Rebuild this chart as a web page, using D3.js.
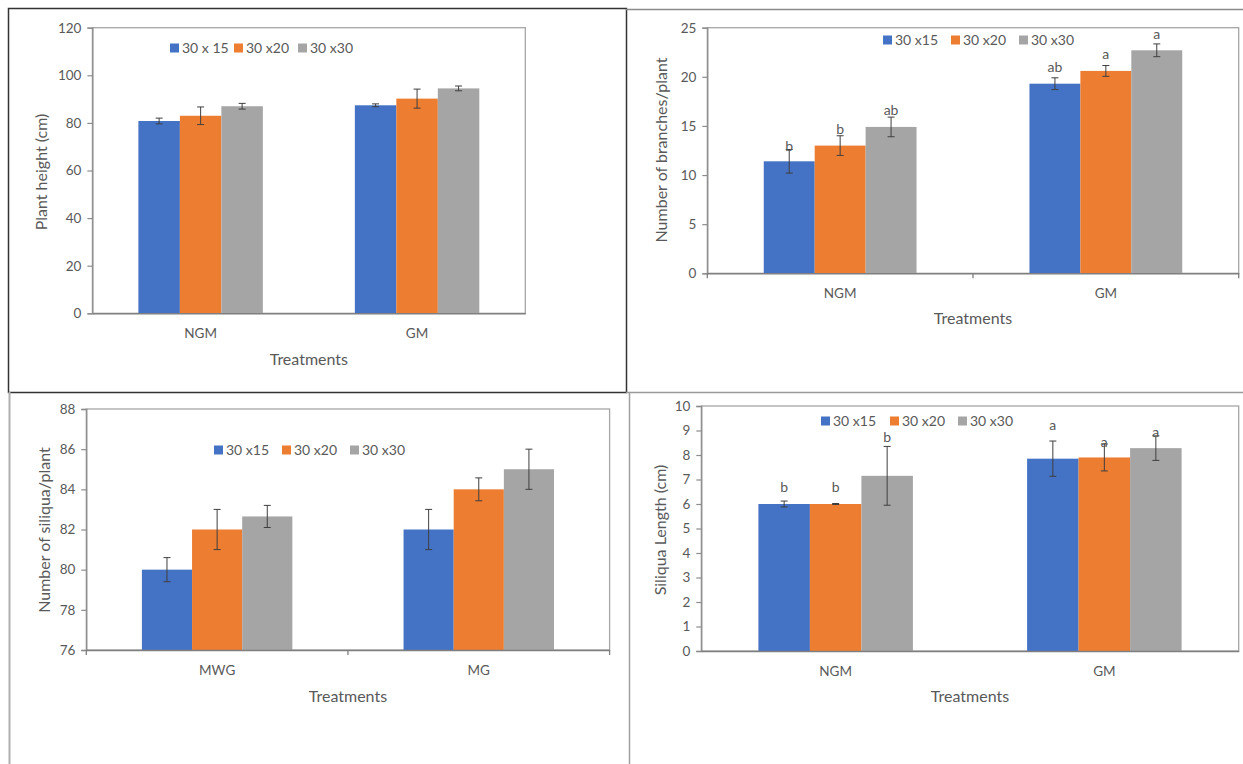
<!DOCTYPE html>
<html>
<head>
<meta charset="utf-8">
<script src="https://cdn.jsdelivr.net/npm/d3@7"></script>
<style>
  html, body { margin: 0; padding: 0; background: #ffffff; }
  svg { display: block; }
  text { font-family: Lato, "Open Sans", sans-serif; fill: #595959; }
</style>
</head>
<body>
<svg id="chart" width="1243" height="764"></svg>
<script>
// ---------------- DATA ----------------
const spacingNames = ["30 x15", "30 x20", "30 x30"];
const spacingNamesHeight = ["30 x 15", "30 x20", "30 x30"];
const treatmentsGM = ["NGM", "GM"];
const treatmentsMG = ["MWG", "MG"];

// Plant height (cm): rows = treatments, cols = spacings
const heightMean = [[80.8, 83.0, 87.0], [87.4, 90.2, 94.5]];
const heightErr  = [[1.2, 3.7, 1.2], [0.6, 4.0, 1.0]];
const heightTicks = [0, 20, 40, 60, 80, 100, 120];

// Number of branches / plant
const branchMean = [[11.4, 13.0, 14.9], [19.3, 20.6, 22.7]];
const branchErr  = [[1.2, 1.0, 1.0], [0.6, 0.55, 0.65]];
const branchLetters = [["b", "b", "ab"], ["ab", "a", "a"]];
const branchLetterAt = [[12.9, 14.7, 16.6], [21.0, 22.3, 24.3]];
const branchTicks = [0, 5, 10, 15, 20, 25];

// Number of siliqua / plant
const siliquaMean = [[80.0, 82.0, 82.65], [82.0, 84.0, 85.0]];
const siliquaErr  = [[0.6, 1.0, 0.55], [1.0, 0.57, 1.0]];
const siliquaTicks = [76, 78, 80, 82, 84, 86, 88];

// Siliqua length (cm)
const lengthMean = [[6.0, 6.0, 7.15], [7.85, 7.9, 8.28]];
const lengthErr  = [[0.12, 0.02, 1.2], [0.72, 0.55, 0.5]];
const lengthLetters = [["b", "b", "b"], ["a", "a", "a"]];
const lengthLetterAt = [[6.68, 6.68, 8.75], [9.22, 8.54, 8.95]];
const lengthTicks = [0, 1, 2, 3, 4, 5, 6, 7, 8, 9, 10];

const seriesColors = ["#4472C4", "#ED7D31", "#A5A5A5"];

// ---------------- DRAW ----------------
const svg = d3.select("#chart");
const FONT = "Lato, 'Open Sans', sans-serif";

function drawPanel(cfg) {
  const g = svg.append("g");
  const y = d3.scaleLinear().domain([cfg.ticks[0], cfg.ticks[cfg.ticks.length - 1]])
    .range([cfg.bottom, cfg.top]);
  const x = d3.scaleBand().domain(cfg.cats).range([cfg.left, cfg.right]).padding(0);
  const bw = x.bandwidth();
  const xs = d3.scaleBand().domain(d3.range(3)).range([bw * 0.2125, bw * 0.7875]).padding(0);

  // plot area border
  g.append("rect")
    .attr("x", cfg.left).attr("y", cfg.top)
    .attr("width", cfg.right - cfg.left).attr("height", cfg.bottom - cfg.top)
    .attr("fill", "none").attr("stroke", "#a6a6a6").attr("stroke-width", 1.3);

  // bars
  cfg.cats.forEach((c, i) => {
    cfg.mean[i].forEach((v, j) => {
      g.append("rect")
        .attr("x", x(c) + xs(j))
        .attr("y", y(v))
        .attr("width", xs.bandwidth())
        .attr("height", y(cfg.ticks[0]) - y(v))
        .attr("fill", seriesColors[j]);
    });
  });

  // error bars
  cfg.cats.forEach((c, i) => {
    cfg.mean[i].forEach((v, j) => {
      const cx = x(c) + xs(j) + xs.bandwidth() / 2;
      const e = cfg.err[i][j];
      const eg = g.append("g").attr("stroke", "#3f3f3f").attr("stroke-width", 1);
      eg.append("line").attr("x1", cx).attr("x2", cx).attr("y1", y(v + e)).attr("y2", y(v - e));
      eg.append("line").attr("x1", cx - 3.5).attr("x2", cx + 3.5).attr("y1", y(v + e)).attr("y2", y(v + e));
      eg.append("line").attr("x1", cx - 3.5).attr("x2", cx + 3.5).attr("y1", y(v - e)).attr("y2", y(v - e));
    });
  });

  // letters
  if (cfg.letters) {
    cfg.cats.forEach((c, i) => {
      cfg.letters[i].forEach((t, j) => {
        const cx = x(c) + xs(j) + xs.bandwidth() / 2;
        g.append("text").attr("x", cx).attr("y", y(cfg.letterAt[i][j]))
          .attr("dy", "0.35em").attr("text-anchor", "middle")
          .attr("font-size", 14).text(t);
      });
    });
  }

  // y axis
  const ya = d3.axisLeft(y).tickValues(cfg.ticks).tickSize(5).tickPadding(6).tickFormat(d3.format("d"));
  const yg = g.append("g").attr("transform", `translate(${cfg.left},0)`).call(ya);
  yg.select(".domain").attr("stroke", "#8c8c8c").attr("stroke-width", 1.3);
  yg.selectAll(".tick line").attr("stroke", "#8c8c8c").attr("stroke-width", 1.2);
  yg.selectAll(".tick text").attr("font-size", 13.5).attr("fill", "#595959")
    .style("font-family", FONT);

  // x axis
  const xa = d3.axisBottom(x).tickSize(0).tickPadding(15);
  const xg = g.append("g").attr("transform", `translate(0,${cfg.bottom})`).call(xa);
  xg.select(".domain").attr("stroke", "#7f7f7f").attr("stroke-width", 1.6);
  xg.selectAll(".tick text").attr("font-size", 13.5).attr("fill", "#595959")
    .style("font-family", FONT);
  if (cfg.catTicks) {
    const bounds = [cfg.left, ...cfg.cats.map(c => x(c) + bw)];
    g.selectAll(null).data(bounds).enter().append("line")
      .attr("x1", d => d).attr("x2", d => d)
      .attr("y1", cfg.bottom).attr("y2", cfg.bottom + 5)
      .attr("stroke", "#7f7f7f").attr("stroke-width", 1.3);
  }

  // axis titles
  g.append("text").attr("x", (cfg.left + cfg.right) / 2).attr("y", cfg.bottom + cfg.xTitleGap)
    .attr("text-anchor", "middle").attr("font-size", 16).text("Treatments");
  g.append("text")
    .attr("transform", `translate(${cfg.yTitleX},${cfg.yTitleY}) rotate(-90)`)
    .attr("text-anchor", "middle").attr("dy", "0.35em").attr("font-size", 16).text(cfg.yTitle);

  // legend
  const lg = g.append("g");
  cfg.legendNames.forEach((n, j) => {
    const lx = cfg.legendX[j];
    lg.append("rect").attr("x", lx).attr("y", cfg.legendY - 4.5).attr("width", 9).attr("height", 9)
      .attr("fill", seriesColors[j]);
    lg.append("text").attr("x", lx + 12).attr("y", cfg.legendY).attr("dy", "0.35em")
      .attr("font-size", 14).text(n);
  });
}

// outer frames
const frame = svg.append("g").attr("fill", "none");
frame.append("rect").attr("x", 8.5).attr("y", 8.5).attr("width", 618).attr("height", 384)
  .attr("stroke", "#333333").attr("stroke-width", 1.5);
frame.append("line").attr("x1", 626).attr("x2", 1243).attr("y1", 9.5).attr("y2", 9.5)
  .attr("stroke", "#8a8a8a").attr("stroke-width", 1.3);
frame.append("line").attr("x1", 626).attr("x2", 1243).attr("y1", 392.5).attr("y2", 392.5)
  .attr("stroke", "#999999").attr("stroke-width", 1.5);
frame.append("line").attr("x1", 9.5).attr("x2", 9.5).attr("y1", 392).attr("y2", 764)
  .attr("stroke", "#b0b0b0").attr("stroke-width", 2);
frame.append("line").attr("x1", 629.5).attr("x2", 629.5).attr("y1", 392).attr("y2", 764)
  .attr("stroke", "#a0a0a0").attr("stroke-width", 1.5);

drawPanel({
  cats: treatmentsGM, mean: heightMean, err: heightErr, ticks: heightTicks,
  left: 92.4, right: 525.3, top: 27.7, bottom: 313.3,
  yTitle: "Plant height (cm)", yTitleX: 41, yTitleY: 172, xTitleGap: 52,
  legendNames: spacingNamesHeight, legendX: [170, 234, 298], legendY: 48, catTicks: false
});

drawPanel({
  cats: treatmentsGM, mean: branchMean, err: branchErr, ticks: branchTicks,
  letters: branchLetters, letterAt: branchLetterAt,
  left: 707.3, right: 1238.7, top: 27.7, bottom: 273.3,
  yTitle: "Number of branches/plant", yTitleX: 661, yTitleY: 150, xTitleGap: 51,
  legendNames: spacingNames, legendX: [883, 951, 1019], legendY: 40, catTicks: true
});

drawPanel({
  cats: treatmentsMG, mean: siliquaMean, err: siliquaErr, ticks: siliquaTicks,
  left: 86.3, right: 609.6, top: 409, bottom: 650,
  yTitle: "Number of siliqua/plant", yTitleX: 44, yTitleY: 530, xTitleGap: 52,
  legendNames: spacingNames, legendX: [214, 282, 350], legendY: 450, catTicks: true
});

drawPanel({
  cats: treatmentsGM, mean: lengthMean, err: lengthErr, ticks: lengthTicks,
  letters: lengthLetters, letterAt: lengthLetterAt,
  left: 701.3, right: 1238.7, top: 406, bottom: 651,
  yTitle: "Siliqua Length (cm)", yTitleX: 660, yTitleY: 530, xTitleGap: 51,
  legendNames: spacingNames, legendX: [821, 890, 958], legendY: 421, catTicks: false
});
</script>
</body>
</html>
